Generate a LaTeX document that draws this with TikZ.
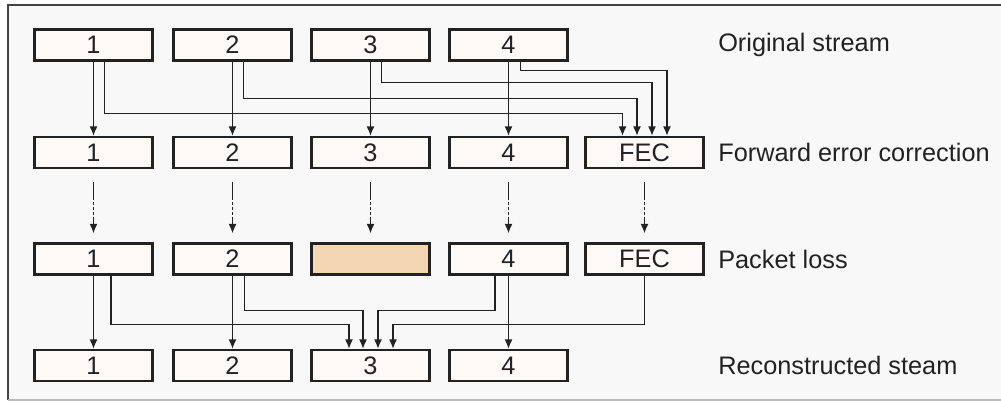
\documentclass[tikz,border=0pt]{standalone}
\usepackage{fontspec}
\setmainfont{Liberation Sans}
\usetikzlibrary{positioning,shapes,arrows.meta,calc}
\definecolor{boxfill}{HTML}{FDF9F6}
\definecolor{lostfill}{HTML}{F3D6B2}
\definecolor{bgfill}{HTML}{F8F8F8}
\definecolor{ink}{HTML}{222222}

\begin{document}
\begin{tikzpicture}[x=0.025cm, y=-0.025cm,
    pkt/.style={draw=ink, line width=1.6pt, fill=boxfill, minimum width=2.95cm,
        minimum height=0.77cm, inner sep=0pt, font=\fontsize{18}{21}\selectfont, text=ink},
    lbl/.style={anchor=west, inner sep=0pt, font=\fontsize{18}{21}\selectfont, text=ink},
    arr/.style={draw=ink, line width=1.2pt, -{Latex[length=2.4mm,width=2mm]}},
    dasharr/.style={arr, dash pattern=on 12.8pt off 1.6pt on 2pt off 1.6pt on 2pt off 1.6pt on 2pt off 1.6pt on 40pt}]
    \useasboundingbox (0,0) rectangle (1001,402);

    % Draw the frame
    \fill[bgfill] (8,5) rectangle (1010,400);
    \draw[ink!85, line width=1.8pt] (1010,5) -- (8,5) -- (8,400);
    \draw[gray!55, line width=1.2pt] (8,400) -- (1010,400);

    % Draw the packet rows
    \foreach \i/\x in {1/93.5,2/232.5,3/370.5,4/508.5} {
        \node[pkt] (o\i) at (\x,45) {\i};
        \node[pkt] (f\i) at (\x,152.5) {\i};
        \node[pkt] (r\i) at (\x,365.5) {\i};
    }
    \node[pkt] (fec) at (644.5,152.5) {FEC};
    \node[pkt] (p1) at (93.5,259) {1};
    \node[pkt] (p2) at (232.5,259) {2};
    \node[pkt, fill=lostfill] (lost) at (370.5,259) {};
    \node[pkt] (p4) at (508.5,259) {4};
    \node[pkt] (pfec) at (644.5,259) {FEC};

    % Row labels
    \node[lbl] (lo) at (718,45) {Original stream};
    \node[lbl] (lf) at (718,152.5) {Forward error correction};
    \node[lbl] (lp) at (718,259) {Packet loss};
    \node[lbl] (lr) at (718,365.5) {Reconstructed steam};

    % Original stream to FEC stream
    \foreach \i in {1,...,4} {
        \draw[arr] (o\i) -- (f\i);
    }
    \draw[arr] ($(o1.south)+(11,0)$) -- ++(0,52) -| ($(fec.north)+(-22,0)$);
    \draw[arr] ($(o2.south)+(11,0)$) -- ++(0,37) -| ($(fec.north)+(-7.5,0)$);
    \draw[arr] ($(o3.south)+(11,0)$) -- ++(0,21) -| ($(fec.north)+(7.5,0)$);
    \draw[arr] ($(o4.south)+(12,0)$) -- ++(0,9) -| ($(fec.north)+(22.5,0)$);

    % Transmission
    \foreach \a/\b in {f1/p1,f2/p2,f3/lost,f4/p4,fec/pfec} {
        \draw[dasharr] ($(\a.south)+(0,13)$) -- ($(\b.north)+(0,-9)$);
    }

    % Reconstruction of packet 3
    \draw[arr] (p1) -- (r1);
    \draw[arr] (p2) -- (r2);
    \draw[arr] (p4) -- (r4);
    \draw[arr] ($(p1.south)+(17.5,0)$) -- ++(0,49) -| ($(r3.north)+(-21.5,0)$);
    \draw[arr] ($(p2.south)+(12,0)$) -- ++(0,35) -| ($(r3.north)+(-7.5,0)$);
    \draw[arr] ($(p4.south)+(-13.5,0)$) -- ++(0,35) -| ($(r3.north)+(7.5,0)$);
    \draw[arr] (pfec.south) -- ++(0,49) -| ($(r3.north)+(22.5,0)$);
\end{tikzpicture}
\end{document}
